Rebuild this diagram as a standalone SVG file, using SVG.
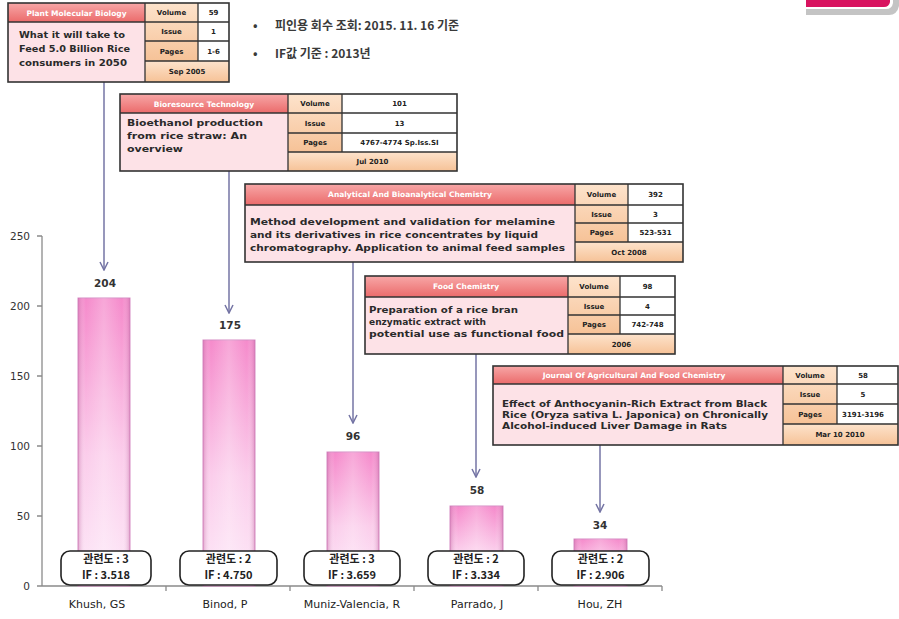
<svg xmlns="http://www.w3.org/2000/svg" width="899" height="619" viewBox="0 0 899 619">
<style>
.title{font-family:"DejaVu Sans",Verdana,sans-serif;font-size:7.5px;font-weight:bold;fill:#fff;text-anchor:middle}
.body{font-family:"DejaVu Sans",Verdana,sans-serif;font-size:9px;font-weight:bold;fill:#2a2a2a}
.cell{font-family:"DejaVu Sans",Verdana,sans-serif;font-size:7px;font-weight:bold;fill:#222;text-anchor:middle}
.frame{fill:none;stroke:#333;stroke-width:1.6}
.grid{stroke:#333;stroke-width:1.3}
.bodyfill{fill:#fde2e7}
.tfill{fill:url(#tg)}
.lfill{fill:url(#lg)}
.vfill{fill:#ffffff}
.bar{fill:url(#bg);stroke:#d58bc3;stroke-width:1}
.barhl{fill:url(#bh)}
.val{font-family:"DejaVu Sans",Verdana,sans-serif;font-size:10.5px;font-weight:bold;fill:#333;text-anchor:middle}
.cat{font-family:"DejaVu Sans",Verdana,sans-serif;font-size:11px;fill:#222;text-anchor:middle}
.ytick{font-family:"DejaVu Sans",Verdana,sans-serif;font-size:10.5px;fill:#333;text-anchor:end}
.ibox{fill:#fff;stroke:#222;stroke-width:1.6}
.itext{font-family:"Noto Sans CJK KR","DejaVu Sans",sans-serif;font-size:11px;font-weight:bold;fill:#222;text-anchor:middle}
.axis{stroke:#8a8a8a;stroke-width:1.3;fill:none}
.conn{stroke:#7474a4;stroke-width:1.5;fill:none}
.legend{font-family:"Noto Sans CJK KR","DejaVu Sans",sans-serif;font-size:12px;font-weight:bold;fill:#3a3a3a}
</style>
<defs>
<linearGradient id="tg" x1="0" y1="0" x2="0" y2="1"><stop offset="0" stop-color="#f7a7a7"/><stop offset="1" stop-color="#eb6b6b"/></linearGradient>
<linearGradient id="lg" x1="0" y1="0" x2="0" y2="1"><stop offset="0" stop-color="#fde3cc"/><stop offset="1" stop-color="#f6c297"/></linearGradient>
<linearGradient id="bg" x1="0" y1="0" x2="0" y2="1"><stop offset="0" stop-color="#f58acb"/><stop offset="0.55" stop-color="#fbcdeb"/><stop offset="1" stop-color="#fde9f8"/></linearGradient>
<linearGradient id="bh" x1="0" y1="0" x2="1" y2="0"><stop offset="0" stop-color="#c0609f" stop-opacity="0.45"/><stop offset="0.15" stop-color="#ffffff" stop-opacity="0"/><stop offset="0.5" stop-color="#ffffff" stop-opacity="0.25"/><stop offset="0.85" stop-color="#ffffff" stop-opacity="0"/><stop offset="1" stop-color="#c0609f" stop-opacity="0.45"/></linearGradient>
<marker id="arr" viewBox="0 0 10 10" refX="9" refY="5" markerWidth="10" markerHeight="10" orient="auto" markerUnits="userSpaceOnUse"><path d="M1,1 L9,5 L1,9" fill="none" stroke="#7474a4" stroke-width="1.5"/></marker>
</defs>
<rect width="899" height="619" fill="#fff"/>

<!-- top right corner decoration -->
<g id="corner">
<path d="M806,-2 L899,-2 L899,6 Q897,15 889,15 L806,15 Z" fill="#c4c4c4"/>
<path d="M806,-2 L893,-2 L893,3 Q892,9 886,9 L806,9 Z" fill="#ffffff"/>
<path d="M806,-2 L890,-2 L890,2 Q889,7 884,7 L806,7 Z" fill="#d8135f"/>
</g>

<!-- legend -->
<g id="legend">
<text class="legend" x="253" y="30">•</text>
<text class="legend" x="275" y="30">피인용 회수 조회: 2015. 11. 16 기준</text>
<text class="legend" x="253" y="58">•</text>
<text class="legend" x="275" y="58">IF값 기준 : 2013년</text>
</g>

<!-- axes -->
<g id="axes">
<line class="axis" x1="42" y1="236" x2="42" y2="586"/>
<line class="axis" x1="42" y1="586" x2="662" y2="586"/>
<path class="axis" d="M37,236H42M37,306H42M37,376H42M37,446H42M37,516H42M37,586H42"/>
<path class="axis" d="M166,586V591M290,586V591M414,586V591M538,586V591M662,586V591"/>
<text class="ytick" x="30" y="240">250</text>
<text class="ytick" x="30" y="310">200</text>
<text class="ytick" x="30" y="380">150</text>
<text class="ytick" x="30" y="450">100</text>
<text class="ytick" x="30" y="520">50</text>
<text class="ytick" x="30" y="590">0</text>
</g>

<!-- bars -->
<g id="bars">
<rect class="bar" x="78" y="298" width="52" height="288"/><rect class="barhl" x="78" y="298" width="52" height="288"/>
<rect class="bar" x="203" y="340" width="52" height="246"/><rect class="barhl" x="203" y="340" width="52" height="246"/>
<rect class="bar" x="327" y="452" width="52" height="134"/><rect class="barhl" x="327" y="452" width="52" height="134"/>
<rect class="bar" x="450" y="506" width="53" height="80"/><rect class="barhl" x="450" y="506" width="53" height="80"/>
<rect class="bar" x="574" y="539" width="53" height="47"/><rect class="barhl" x="574" y="539" width="53" height="47"/>
<text class="val" x="105" y="287">204</text>
<text class="val" x="230" y="329">175</text>
<text class="val" x="353" y="440">96</text>
<text class="val" x="477" y="494">58</text>
<text class="val" x="600" y="529">34</text>
</g>

<!-- info boxes -->
<g id="info1"><rect class="ibox" x="61" y="551" width="90" height="34" rx="9"/><text class="itext" x="106" y="563">관련도 : 3</text><text class="itext" x="106" y="579">IF : 3.518</text></g>
<g id="info2"><rect class="ibox" x="180" y="551" width="97" height="34" rx="9"/><text class="itext" x="228.5" y="563">관련도 : 2</text><text class="itext" x="228.5" y="579">IF : 4.750</text></g>
<g id="info3"><rect class="ibox" x="304" y="551" width="96" height="34" rx="9"/><text class="itext" x="352" y="563">관련도 : 3</text><text class="itext" x="352" y="579">IF : 3.659</text></g>
<g id="info4"><rect class="ibox" x="428" y="551" width="96" height="34" rx="9"/><text class="itext" x="476" y="563">관련도 : 2</text><text class="itext" x="476" y="579">IF : 3.334</text></g>
<g id="info5"><rect class="ibox" x="552" y="551" width="97" height="34" rx="9"/><text class="itext" x="600.5" y="563">관련도 : 2</text><text class="itext" x="600.5" y="579">IF : 2.906</text></g>

<!-- categories -->
<g id="categories">
<text class="cat" x="97" y="608">Khush, GS</text>
<text class="cat" x="225" y="608">Binod, P</text>
<text class="cat" x="352" y="608">Muniz-Valencia, R</text>
<text class="cat" x="477" y="608">Parrado, J</text>
<text class="cat" x="600" y="608">Hou, ZH</text>
</g>

<!-- connectors -->
<g id="connectors">
<line class="conn" x1="104" y1="82" x2="104" y2="270" marker-end="url(#arr)"/>
<line class="conn" x1="229" y1="171" x2="229" y2="313" marker-end="url(#arr)"/>
<line class="conn" x1="353" y1="262" x2="353" y2="423" marker-end="url(#arr)"/>
<line class="conn" x1="476" y1="354" x2="476" y2="477" marker-end="url(#arr)"/>
<line class="conn" x1="600" y1="445" x2="600" y2="512" marker-end="url(#arr)"/>
</g>

<!-- paper 1 -->
<g id="paper1">
<rect class="tfill" x="8" y="3" width="137" height="19"/>
<rect class="bodyfill" x="8" y="22" width="137" height="60"/>
<rect class="lfill" x="145" y="3" width="53" height="58"/>
<rect class="vfill" x="198" y="3" width="31" height="58"/>
<rect class="lfill" x="145" y="61" width="84" height="21"/>
<rect class="frame" x="8" y="3" width="221" height="79"/>
<path class="grid" d="M8,22H145M145,3V82M198,3V61M145,22H229M145,41H229M145,61H229"/>
<text class="title" x="76.5" y="15.5">Plant Molecular Biology</text>
<text class="body" x="19" y="38" textLength="106" lengthAdjust="spacingAndGlyphs">What it will take to</text>
<text class="body" x="19" y="52" textLength="111" lengthAdjust="spacingAndGlyphs">Feed 5.0 Billion Rice</text>
<text class="body" x="19" y="66" textLength="108" lengthAdjust="spacingAndGlyphs">consumers in 2050</text>
<text class="cell" x="171.5" y="15">Volume</text><text class="cell" x="213.5" y="15">59</text>
<text class="cell" x="171.5" y="34">Issue</text><text class="cell" x="213.5" y="34">1</text>
<text class="cell" x="171.5" y="54">Pages</text><text class="cell" x="213.5" y="54">1-6</text>
<text class="cell" x="187" y="74">Sep 2005</text>
</g>

<!-- paper 2 -->
<g id="paper2">
<rect class="tfill" x="120" y="94" width="168" height="19"/>
<rect class="bodyfill" x="120" y="113" width="168" height="58"/>
<rect class="lfill" x="288" y="94" width="54" height="58"/>
<rect class="vfill" x="342" y="94" width="115" height="58"/>
<rect class="lfill" x="288" y="152" width="169" height="19"/>
<rect class="frame" x="120" y="94" width="337" height="77"/>
<path class="grid" d="M120,113H288M288,94V171M342,94V152M288,113H457M288,133H457M288,152H457"/>
<text class="title" x="204" y="106.5">Bioresource Technology</text>
<text class="body" x="127" y="126" textLength="136" lengthAdjust="spacingAndGlyphs">Bioethanol production</text>
<text class="body" x="127" y="139" textLength="120" lengthAdjust="spacingAndGlyphs">from rice straw: An</text>
<text class="body" x="127" y="152" textLength="56" lengthAdjust="spacingAndGlyphs">overview</text>
<text class="cell" x="315" y="106">Volume</text><text class="cell" x="399.5" y="106">101</text>
<text class="cell" x="315" y="125.5">Issue</text><text class="cell" x="399.5" y="125.5">13</text>
<text class="cell" x="315" y="145">Pages</text><text class="cell" x="399.5" y="145">4767-4774 Sp.Iss.SI</text>
<text class="cell" x="372.5" y="164">Jul 2010</text>
</g>

<!-- paper 3 -->
<g id="paper3">
<rect class="tfill" x="245" y="184" width="330" height="21"/>
<rect class="bodyfill" x="245" y="205" width="330" height="57"/>
<rect class="lfill" x="575" y="184" width="53" height="58"/>
<rect class="vfill" x="628" y="184" width="55" height="58"/>
<rect class="lfill" x="575" y="242" width="108" height="20"/>
<rect class="frame" x="245" y="184" width="438" height="78"/>
<path class="grid" d="M245,205H575M575,184V262M628,184V242M575,205H683M575,223H683M575,242H683"/>
<text class="title" x="410" y="197">Analytical And Bioanalytical Chemistry</text>
<text class="body" x="250" y="225" textLength="305" lengthAdjust="spacingAndGlyphs">Method development and validation for melamine</text>
<text class="body" x="250" y="238" textLength="288" lengthAdjust="spacingAndGlyphs">and its derivatives in rice concentrates by liquid</text>
<text class="body" x="250" y="251" textLength="315" lengthAdjust="spacingAndGlyphs">chromatography.  Application to animal feed samples</text>
<text class="cell" x="601.5" y="197">Volume</text><text class="cell" x="655.5" y="197">392</text>
<text class="cell" x="601.5" y="216.5">Issue</text><text class="cell" x="655.5" y="216.5">3</text>
<text class="cell" x="601.5" y="235">Pages</text><text class="cell" x="655.5" y="235">523-531</text>
<text class="cell" x="629" y="254.5">Oct 2008</text>
</g>

<!-- paper 4 -->
<g id="paper4">
<rect class="tfill" x="365" y="276" width="203" height="21"/>
<rect class="bodyfill" x="365" y="297" width="203" height="57"/>
<rect class="lfill" x="568" y="276" width="52" height="58"/>
<rect class="vfill" x="620" y="276" width="55" height="58"/>
<rect class="lfill" x="568" y="334" width="107" height="20"/>
<rect class="frame" x="365" y="276" width="310" height="78"/>
<path class="grid" d="M365,297H568M568,276V354M620,276V334M568,297H675M568,315H675M568,334H675"/>
<text class="title" x="466" y="289">Food Chemistry</text>
<text class="body" x="369" y="313" textLength="149" lengthAdjust="spacingAndGlyphs">Preparation of a rice bran</text>
<text class="body" x="369" y="325" textLength="117" lengthAdjust="spacingAndGlyphs">enzymatic extract with</text>
<text class="body" x="369" y="337" textLength="195" lengthAdjust="spacingAndGlyphs">potential use as functional food</text>
<text class="cell" x="594" y="289">Volume</text><text class="cell" x="647.5" y="289">98</text>
<text class="cell" x="594" y="308.5">Issue</text><text class="cell" x="647.5" y="308.5">4</text>
<text class="cell" x="594" y="327">Pages</text><text class="cell" x="647.5" y="327">742-748</text>
<text class="cell" x="621.5" y="346.5">2006</text>
</g>

<!-- paper 5 -->
<g id="paper5">
<rect class="tfill" x="493" y="366" width="290" height="18"/>
<rect class="bodyfill" x="493" y="384" width="290" height="61"/>
<rect class="lfill" x="783" y="366" width="54" height="58"/>
<rect class="vfill" x="837" y="366" width="61" height="58"/>
<rect class="lfill" x="783" y="424" width="115" height="21"/>
<rect class="frame" x="493" y="366" width="405" height="79"/>
<path class="grid" d="M493,384H783M783,366V445M837,366V424M783,384H898M783,404H898M783,424H898"/>
<text class="title" x="634" y="377.5">Journal Of Agricultural And Food Chemistry</text>
<text class="body" x="502" y="407" textLength="265" lengthAdjust="spacingAndGlyphs">Effect of Anthocyanin-Rich Extract from Black</text>
<text class="body" x="502" y="418" textLength="266" lengthAdjust="spacingAndGlyphs">Rice (Oryza sativa L. Japonica) on Chronically</text>
<text class="body" x="502" y="429" textLength="225" lengthAdjust="spacingAndGlyphs">Alcohol-induced Liver Damage in Rats</text>
<text class="cell" x="810" y="378">Volume</text><text class="cell" x="863" y="378">58</text>
<text class="cell" x="810" y="396.5">Issue</text><text class="cell" x="863" y="396.5">5</text>
<text class="cell" x="810" y="416.5">Pages</text><text class="cell" x="863" y="416.5">3191-3196</text>
<text class="cell" x="840" y="437">Mar 10 2010</text>
</g>
</svg>
